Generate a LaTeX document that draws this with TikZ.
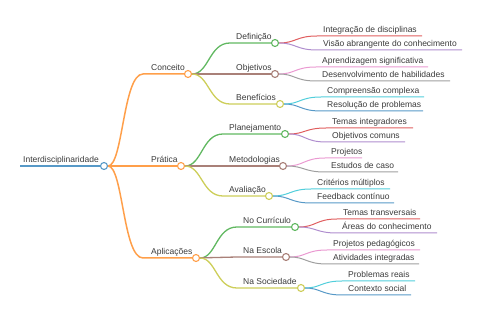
\documentclass[tikz,border=0pt]{standalone}
\usepackage{fontspec}
\setmainfont{Liberation Sans}
\definecolor{cblue}{HTML}{1F77B4}
\definecolor{corange}{HTML}{FF7F0E}
\definecolor{cgreen}{HTML}{2CA02C}
\definecolor{cred}{HTML}{D62728}
\definecolor{cpurple}{HTML}{9467BD}
\definecolor{cbrown}{HTML}{8C564B}
\definecolor{cpink}{HTML}{E377C2}
\definecolor{cgray}{HTML}{7F7F7F}
\definecolor{colive}{HTML}{BCBD22}
\definecolor{ccyan}{HTML}{17BECF}
\definecolor{txt}{HTML}{3A3A3A}
\tikzset{
  dot/.style={circle, minimum size=7pt, inner sep=0pt, fill=white, line width=1.1pt},
  lbl/.style={anchor=base west, inner sep=0pt, text=txt, font=\fontsize{8.5}{10}\selectfont},
  lroot/.style={line width=2pt},
  lone/.style={line width=1.5pt},
  ltwo/.style={line width=1.3pt},
  lthree/.style={line width=1pt},
}
\begin{document}
\begin{tikzpicture}[x=1pt,y=-1pt]
\useasboundingbox (0,0) rectangle (480,320);
% root
\coordinate (rootS) at (20,166);
\node[dot, draw=cblue!75!white] (root) at (104,166) {};
\draw[lroot, cblue!75!white] (rootS) -- (root);
\node[lbl] (rootT) at (23,162.5) {Interdisciplinaridade};

% ---------- level 1 ----------
\coordinate (conS) at (143,74);
\node[dot, draw=corange!75!white] (con) at (188,74) {};
\draw[lone, corange!75!white] (root) .. controls (123,166) and (123,74) .. (conS) -- (con);
\node[lbl] (conT) at (151,70.5) {Conceito};

\coordinate (praS) at (143,166);
\node[dot, draw=corange!75!white] (pra) at (181,166) {};
\draw[lone, corange!75!white] (root) -- (praS) -- (pra);
\node[lbl] (praT) at (151,162.5) {Prática};

\coordinate (aplS) at (143,258);
\node[dot, draw=corange!75!white] (apl) at (196,258) {};
\draw[lone, corange!75!white] (root) .. controls (123,166) and (123,258) .. (aplS) -- (apl);
\node[lbl] (aplT) at (151,254.5) {Aplicações};

% ---------- level 2: Conceito ----------
\coordinate (defS) at (230,43);
\node[dot, draw=cgreen!75!white] (def) at (275,43) {};
\draw[ltwo, cgreen!75!white] (con) .. controls (209,74) and (209,43) .. (defS) -- (def);
\node[lbl] (defT) at (236,39.5) {Definição};

\coordinate (objS) at (230,74);
\node[dot, draw=cbrown!75!white] (obj) at (275,74) {};
\draw[ltwo, cbrown!75!white] (con) -- (objS) -- (obj);
\node[lbl] (objT) at (236,70.5) {Objetivos};

\coordinate (benS) at (230,104);
\node[dot, draw=colive!75!white] (ben) at (280,104) {};
\draw[ltwo, colive!75!white] (con) .. controls (209,74) and (209,104) .. (benS) -- (ben);
\node[lbl] (benT) at (236,100.5) {Benefícios};

% ---------- level 2: Prática ----------
\coordinate (plaS) at (223,134);
\node[dot, draw=cgreen!75!white] (pla) at (285,134) {};
\draw[ltwo, cgreen!75!white] (pra) .. controls (202,166) and (202,134) .. (plaS) -- (pla);
\node[lbl] (plaT) at (229,130.5) {Planejamento};

\coordinate (metS) at (223,166);
\node[dot, draw=cbrown!75!white] (met) at (283,166) {};
\draw[ltwo, cbrown!75!white] (pra) -- (metS) -- (met);
\node[lbl] (metT) at (229,162.5) {Metodologias};

\coordinate (avaS) at (223,196);
\node[dot, draw=colive!75!white] (ava) at (269,196) {};
\draw[ltwo, colive!75!white] (pra) .. controls (202,166) and (202,196) .. (avaS) -- (ava);
\node[lbl] (avaT) at (229,192.5) {Avaliação};

% ---------- level 2: Aplicações ----------
\coordinate (curS) at (237,227);
\node[dot, draw=cgreen!75!white] (cur) at (295,227) {};
\draw[ltwo, cgreen!75!white] (apl) .. controls (216,258) and (216,227) .. (curS) -- (cur);
\node[lbl] (curT) at (243,223.5) {No Currículo};

\coordinate (escS) at (237,257);
\node[dot, draw=cbrown!75!white] (esc) at (286,257) {};
\draw[ltwo, cbrown!75!white] (apl) -- (escS) -- (esc);
\node[lbl] (escT) at (243,253.5) {Na Escola};

\coordinate (socS) at (237,288);
\node[dot, draw=colive!75!white] (soc) at (301,288) {};
\draw[ltwo, colive!75!white] (apl) .. controls (216,258) and (216,288) .. (socS) -- (soc);
\node[lbl] (socT) at (243,284.5) {Na Sociedade};

% ---------- level 3 ----------
% Definição
\coordinate (a1S) at (317,36); \coordinate (a1E) at (422,36);
\draw[lthree, cred!75!white] (def) .. controls (296,43) and (296,36) .. (a1S) -- (a1E);
\node[lbl] (a1T) at (323,33) {Integração de disciplinas};
\coordinate (a2S) at (317,50); \coordinate (a2E) at (462,50);
\draw[lthree, cpurple!75!white] (def) .. controls (296,43) and (296,50) .. (a2S) -- (a2E);
\node[lbl] (a2T) at (323,47) {Visão abrangente do conhecimento};
% Objetivos
\coordinate (b1S) at (316,67); \coordinate (b1E) at (428,67);
\draw[lthree, cpink!75!white] (obj) .. controls (295,74) and (295,67) .. (b1S) -- (b1E);
\node[lbl] (b1T) at (322,64) {Aprendizagem significativa};
\coordinate (b2S) at (316,81); \coordinate (b2E) at (450,81);
\draw[lthree, cgray!75!white] (obj) .. controls (295,74) and (295,81) .. (b2S) -- (b2E);
\node[lbl] (b2T) at (322,78) {Desenvolvimento de habilidades};
% Benefícios
\coordinate (c1S) at (321,97); \coordinate (c1E) at (424,97);
\draw[lthree, ccyan!75!white] (ben) .. controls (300,104) and (300,97) .. (c1S) -- (c1E);
\node[lbl] (c1T) at (327,94) {Compreensão complexa};
\coordinate (c2S) at (321,111); \coordinate (c2E) at (423,111);
\draw[lthree, cblue!75!white] (ben) .. controls (300,104) and (300,111) .. (c2S) -- (c2E);
\node[lbl] (c2T) at (327,108) {Resolução de problemas};
% Planejamento
\coordinate (d1S) at (326,128); \coordinate (d1E) at (413,128);
\draw[lthree, cred!75!white] (pla) .. controls (305,134) and (305,128) .. (d1S) -- (d1E);
\node[lbl] (d1T) at (332,125) {Temas integradores};
\coordinate (d2S) at (326,142); \coordinate (d2E) at (405,142);
\draw[lthree, cpurple!75!white] (pla) .. controls (305,134) and (305,142) .. (d2S) -- (d2E);
\node[lbl] (d2T) at (332,139) {Objetivos comuns};
% Metodologias
\coordinate (e1S) at (325,158); \coordinate (e1E) at (362,158);
\draw[lthree, cpink!75!white] (met) .. controls (304,166) and (304,158) .. (e1S) -- (e1E);
\node[lbl] (e1T) at (331,155) {Projetos};
\coordinate (e2S) at (325,172); \coordinate (e2E) at (398,172);
\draw[lthree, cgray!75!white] (met) .. controls (304,166) and (304,172) .. (e2S) -- (e2E);
\node[lbl] (e2T) at (331,169) {Estudos de caso};
% Avaliação
\coordinate (f1S) at (311,189); \coordinate (f1E) at (390,189);
\draw[lthree, ccyan!75!white] (ava) .. controls (290,196) and (290,189) .. (f1S) -- (f1E);
\node[lbl] (f1T) at (317,186) {Critérios múltiplos};
\coordinate (f2S) at (311,203); \coordinate (f2E) at (394,203);
\draw[lthree, cblue!75!white] (ava) .. controls (290,196) and (290,203) .. (f2S) -- (f2E);
\node[lbl] (f2T) at (317,200) {Feedback contínuo};
% No Currículo
\coordinate (g1S) at (337,219); \coordinate (g1E) at (420,219);
\draw[lthree, cred!75!white] (cur) .. controls (316,227) and (316,219) .. (g1S) -- (g1E);
\node[lbl] (g1T) at (343,216) {Temas transversais};
\coordinate (g2S) at (337,233); \coordinate (g2E) at (437,233);
\draw[lthree, cpurple!75!white] (cur) .. controls (316,227) and (316,233) .. (g2S) -- (g2E);
\node[lbl] (g2T) at (342,230) {Áreas do conhecimento};
% Na Escola
\coordinate (h1S) at (327,250); \coordinate (h1E) at (420,250);
\draw[lthree, cpink!75!white] (esc) .. controls (306,257) and (306,250) .. (h1S) -- (h1E);
\node[lbl] (h1T) at (333,247) {Projetos pedagógicos};
\coordinate (h2S) at (327,264); \coordinate (h2E) at (419,264);
\draw[lthree, cgray!75!white] (esc) .. controls (306,257) and (306,264) .. (h2S) -- (h2E);
\node[lbl] (h2T) at (333,261) {Atividades integradas};
% Na Sociedade
\coordinate (k1S) at (342,281); \coordinate (k1E) at (415,281);
\draw[lthree, ccyan!75!white] (soc) .. controls (321,288) and (321,281) .. (k1S) -- (k1E);
\node[lbl] (k1T) at (348,278) {Problemas reais};
\coordinate (k2S) at (342,295); \coordinate (k2E) at (411,295);
\draw[lthree, cblue!75!white] (soc) .. controls (321,288) and (321,295) .. (k2S) -- (k2E);
\node[lbl] (k2T) at (348,292) {Contexto social};
\end{tikzpicture}
\end{document}
